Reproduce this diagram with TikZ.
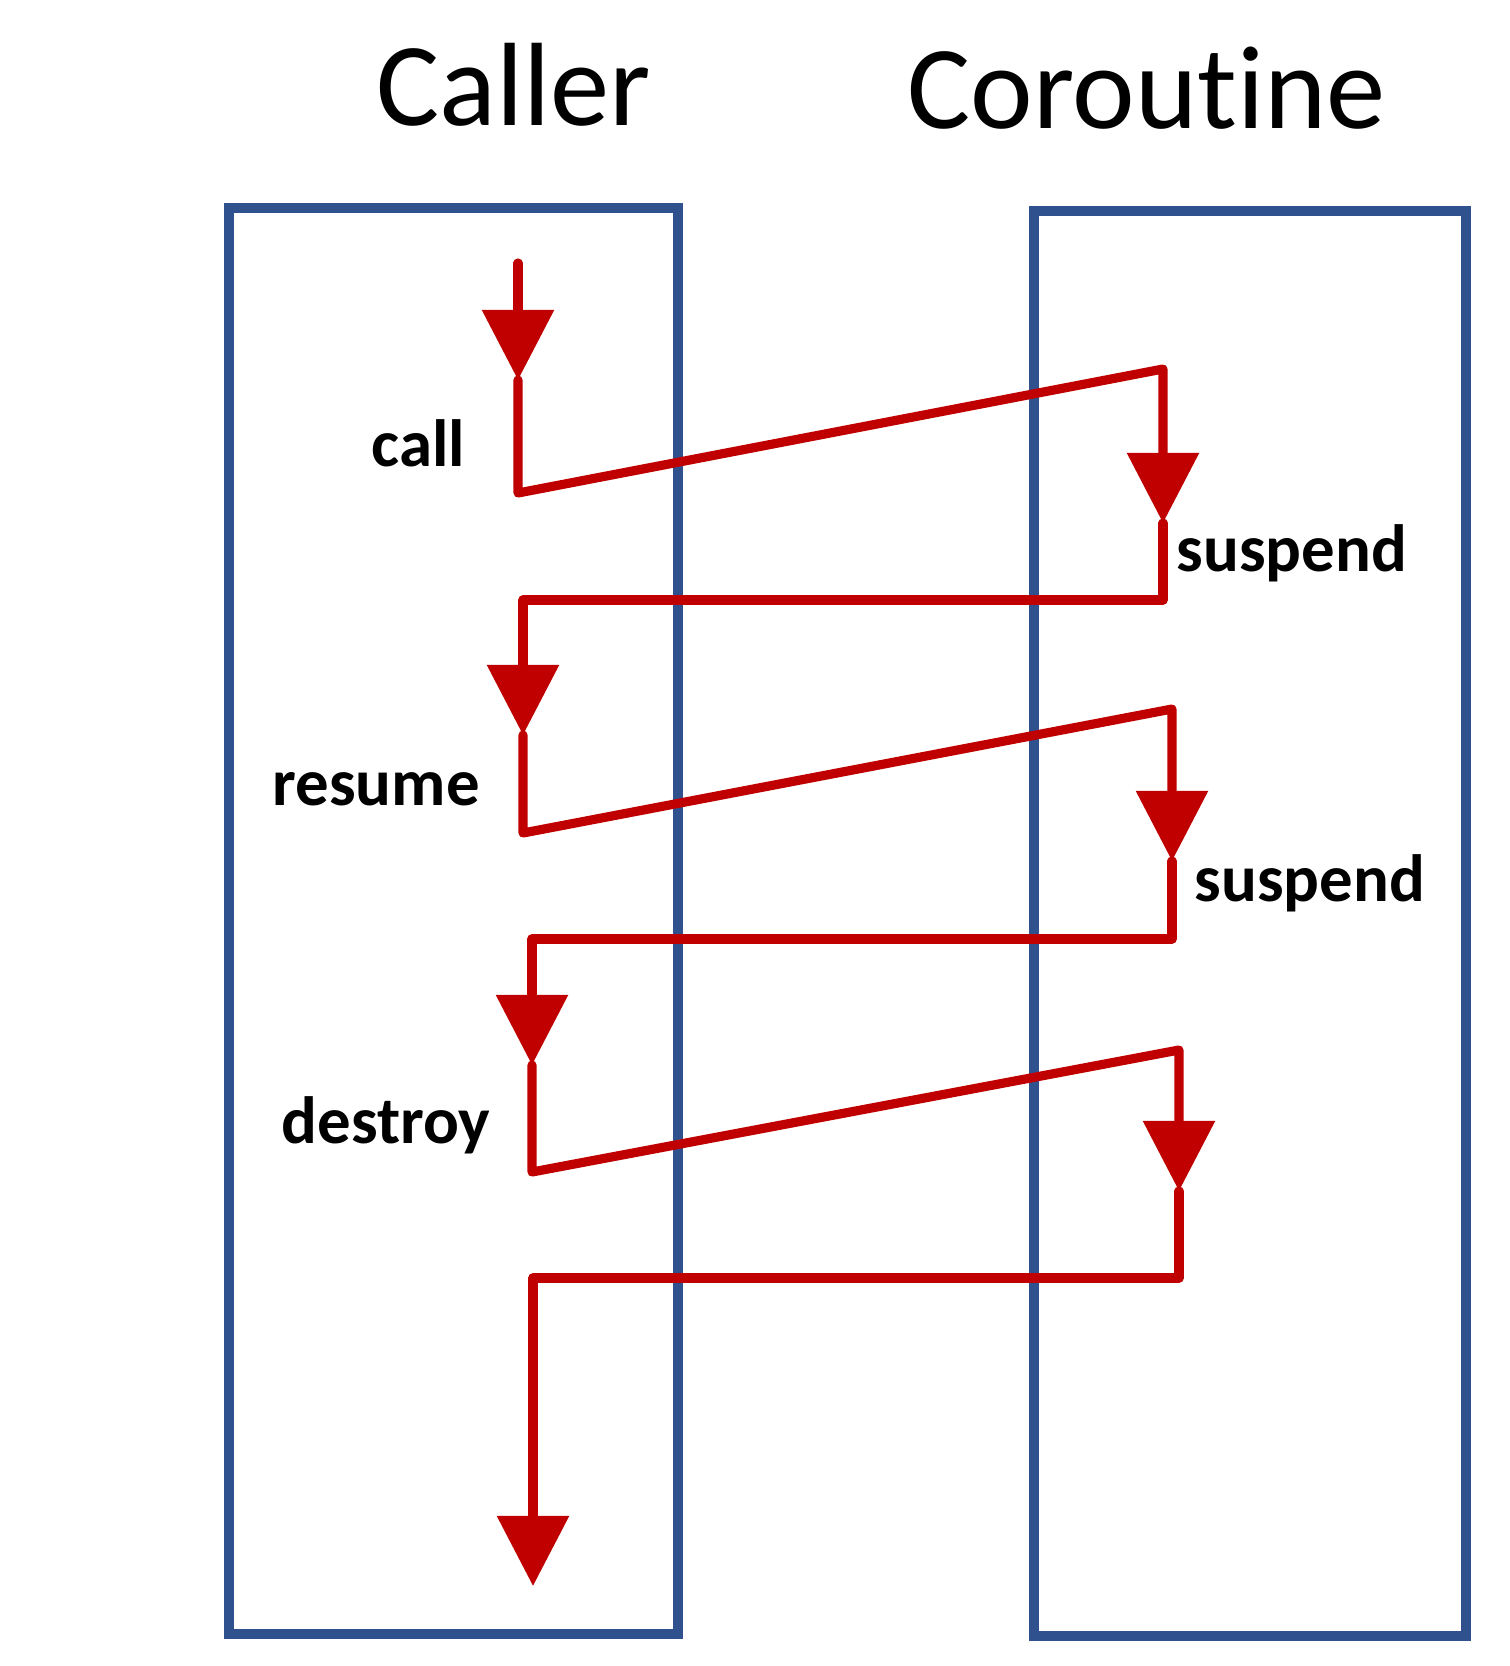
\documentclass[tikz,border=0pt]{standalone}
\usepackage{fontspec}
\setmainfont{Carlito}[Ligatures={NoCommon,NoContextual}]
\usetikzlibrary{arrows.meta}
\definecolor{boxblue}{RGB}{47,82,143}
\definecolor{flowred}{RGB}{192,0,0}
\begin{document}
\begin{tikzpicture}[x=0.01cm,y=-0.01cm,
  lane/.style={draw=boxblue,line width=2.6pt},
  flow/.style={draw=flowred,line width=2.6pt,line join=round,line cap=round,
    -{Triangle[length=7mm,width=7mm,sharp]}},
  title/.style={anchor=base west,inner sep=0pt,font=\fontsize{33.7pt}{40pt}\selectfont},
  lbl/.style={anchor=base west,inner sep=0pt,font=\fontsize{19pt}{23pt}\selectfont\bfseries}]
\useasboundingbox (0,0) rectangle (1510,1666);
% lanes
\draw[lane] (229,208) rectangle (678,1634);
\draw[lane] (1034,211) rectangle (1466,1636);
% titles
\node[title] (caller) at (376,125) {Caller};
\node[title] (coro) at (907,128) {Coroutine};
% path coordinates
\coordinate (p0) at (518,263);
\coordinate (t1) at (518,380);
\coordinate (p1) at (518,493);
\coordinate (p2) at (1163,369);
\coordinate (t2) at (1163,523);
\coordinate (p3) at (1163,600);
\coordinate (p4) at (523,600);
\coordinate (t3) at (523,735);
\coordinate (p5) at (523,833);
\coordinate (p6) at (1172,709);
\coordinate (t4) at (1172,861);
\coordinate (p7) at (1172,939);
\coordinate (p8) at (532,939);
\coordinate (t5) at (532,1065);
\coordinate (p9) at (532,1172);
\coordinate (p10) at (1179,1050);
\coordinate (t6) at (1179,1191);
\coordinate (p11) at (1179,1278);
\coordinate (p12) at (533,1278);
\coordinate (t7) at (533,1586);
% flow
\draw[flow] (p0) -- (t1);
\draw[flow] (t1) -- (p1) -- (p2) -- (t2);
\draw[flow] (t2) -- (p3) -- (p4) -- (t3);
\draw[flow] (t3) -- (p5) -- (p6) -- (t4);
\draw[flow] (t4) -- (p7) -- (p8) -- (t5);
\draw[flow] (t5) -- (p9) -- (p10) -- (t6);
\draw[flow] (t6) -- (p11) -- (p12) -- (t7);
% labels
\node[lbl] (call) at (371,466) {call};
\node[lbl] (susp1) at (1176,571) {suspend};
\node[lbl] (resume) at (272,805) {resume};
\node[lbl] (susp2) at (1194,901) {suspend};
\node[lbl] (destroy) at (281,1143) {destroy};
\end{tikzpicture}
\end{document}
